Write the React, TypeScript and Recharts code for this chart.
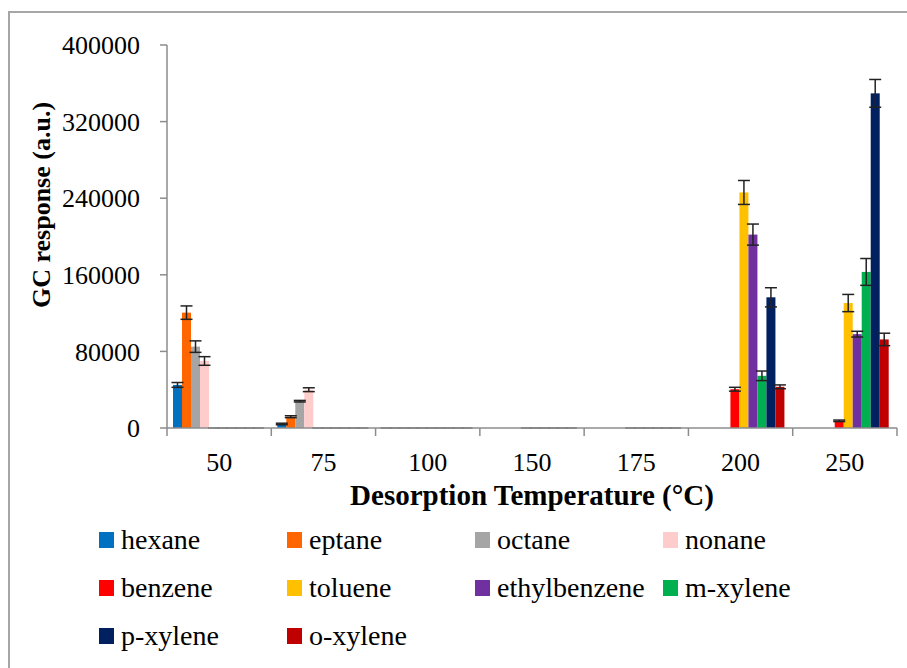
import React from 'react';
import { BarChart, Bar, XAxis, YAxis, ErrorBar, Legend } from 'recharts';

const temperatures = ['50', '75', '100', '150', '175', '200', '250'];

const hexane = [45000, 4200, 0, null, null, null, null];
const eptane = [120500, 11800, 0, null, null, null, null];
const octane = [85000, 28000, 0, null, null, null, null];
const nonane = [70000, 40000, 0, null, null, null, null];
const benzene = [0, 0, 0, 0, 0, 40500, 7500];
const toluene = [0, 0, 0, 0, 0, 246000, 130500];
const ethylbenzene = [0, 0, 0, 0, 0, 202000, 98000];
const mXylene = [0, 0, 0, 0, 0, 54500, 163000];
const pXylene = [0, 0, 0, 0, 0, 136500, 349500];
const oXylene = [0, 0, 0, 0, 0, 43000, 92500];

const hexaneErr = [2500, 800, 0, null, null, null, null];
const eptaneErr = [7000, 1000, 0, null, null, null, null];
const octaneErr = [6000, 800, 0, null, null, null, null];
const nonaneErr = [4500, 2000, 0, null, null, null, null];
const benzeneErr = [0, 0, 0, 0, 0, 2000, 800];
const tolueneErr = [0, 0, 0, 0, 0, 12500, 9000];
const ethylbenzeneErr = [0, 0, 0, 0, 0, 11000, 3000];
const mXyleneErr = [0, 0, 0, 0, 0, 5000, 14000];
const pXyleneErr = [0, 0, 0, 0, 0, 10000, 14500];
const oXyleneErr = [0, 0, 0, 0, 0, 2000, 6500];

const seriesNames = ['hexane', 'eptane', 'octane', 'nonane', 'benzene', 'toluene', 'ethylbenzene', 'm-xylene', 'p-xylene', 'o-xylene'];
const seriesColors = ['#0070C0', '#FF6600', '#A5A5A5', '#FFCCCC', '#FF0000', '#FFC000', '#7030A0', '#00B050', '#002060', '#C00000'];
const seriesValues = [hexane, eptane, octane, nonane, benzene, toluene, ethylbenzene, mXylene, pXylene, oXylene];
const seriesErrors = [hexaneErr, eptaneErr, octaneErr, nonaneErr, benzeneErr, tolueneErr, ethylbenzeneErr, mXyleneErr, pXyleneErr, oXyleneErr];

const yTicks = [0, 80000, 160000, 240000, 320000, 400000];

const xTitle = 'Desorption Temperature (°C)';
const yTitle = 'GC response (a.u.)';

const FONT = "'Liberation Serif', 'Times New Roman', serif";
const AXIS_GRAY = '#8c8c8c';
const X_TICK_SIZE = 8;
const X_TICK_MARGIN = 17;

const data = temperatures.map((t, i) => {
  const row: any = { temp: t };
  seriesNames.forEach((n, s) => {
    const v = seriesValues[s][i];
    const e = seriesErrors[s][i];
    row[n] = v;
    row[n + '_err'] = v === null || e === null || e === 0 ? null : e;
  });
  return row;
});

const renderLegend = () => (
  <div style={{ paddingLeft: 99, width: 907, fontFamily: FONT, fontSize: 28, color: '#000' }}>
    {seriesNames.map((n, i) => (
      <div
        key={n}
        style={{
          display: 'inline-flex',
          alignItems: 'center',
          width: 188,
          height: 48,
          verticalAlign: 'top',
          whiteSpace: 'nowrap',
        }}
      >
        <span style={{ display: 'inline-block', width: 15, height: 16, background: seriesColors[i], marginRight: 7 }} />
        <span style={{ lineHeight: '48px' }}>{n}</span>
      </div>
    ))}
  </div>
);

// bar shape: filled rectangle, or a thin baseline mark for a zero value
const BarShape = (props: any) => {
  const { x, y, width, height, fill } = props;
  if (x == null || y == null) return null;
  if (Math.abs(height) < 0.5) {
    return <line x1={x - 1} x2={x + width + 1} y1={y} y2={y} stroke="#5a5a5a" strokeWidth={1.5} />;
  }
  return <rect x={x} y={y} width={width} height={height} fill={fill} />;
};

// category tick: label at the centre, tick marks at the category boundaries
const CategoryTick = (props: any) => {
  const { x, y, payload, width, visibleTicksCount, index } = props;
  const count = visibleTicksCount || temperatures.length;
  const band = width / count;
  const axisY = y - X_TICK_SIZE - X_TICK_MARGIN;
  const left = x - band / 2;
  const right = x + band / 2;
  return (
    <g>
      <line x1={left} y1={axisY} x2={left} y2={axisY + X_TICK_SIZE} stroke={AXIS_GRAY} strokeWidth={1.5} />
      {index === count - 1 && (
        <line x1={right} y1={axisY} x2={right} y2={axisY + X_TICK_SIZE} stroke={AXIS_GRAY} strokeWidth={1.5} />
      )}
      <text x={x} y={y} dy="0.71em" textAnchor="middle" fontFamily={FONT} fontSize={26} fill="#000">
        {payload.value}
      </text>
    </g>
  );
};

const XTitle = (props: any) => {
  const vb = props.viewBox || {};
  return (
    <text
      x={vb.x + vb.width / 2}
      y={vb.y + 77}
      textAnchor="middle"
      fontFamily={FONT}
      fontWeight="bold"
      fontSize={29}
      fill="#000"
    >
      {xTitle}
    </text>
  );
};

const YTitle = (props: any) => {
  const vb = props.viewBox || {};
  const cx = vb.x - 26;
  const cy = 205;
  return (
    <text
      x={cx}
      y={cy}
      transform={`rotate(-90, ${cx}, ${cy})`}
      textAnchor="middle"
      dominantBaseline="central"
      fontFamily={FONT}
      fontWeight="bold"
      fontSize={26}
      fill="#000"
    >
      {yTitle}
    </text>
  );
};

export default function App() {
  return (
    <div style={{ position: 'absolute', left: 0, top: 0, width: 907, height: 668, background: '#fff', overflow: 'hidden' }}>
      <div
        style={{
          position: 'absolute',
          left: 8,
          top: 11,
          width: 920,
          height: 700,
          borderLeft: '2px solid #a6a6a6',
          borderTop: '2px solid #a6a6a6',
          boxSizing: 'border-box',
        }}
      />
      <div style={{ position: 'absolute', left: 0, top: 0 }}>
        <BarChart
          width={907}
          height={668}
          data={data}
          margin={{ top: 45, right: 10, left: 67, bottom: 18 }}
          barCategoryGap={6}
          barGap={0}
        >
          <XAxis
            dataKey="temp"
            height={72}
            tickLine={false}
            tickSize={X_TICK_SIZE}
            tickMargin={X_TICK_MARGIN}
            axisLine={{ stroke: AXIS_GRAY, strokeWidth: 1.5 }}
            tick={<CategoryTick />}
            interval={0}
            label={<XTitle />}
          />
          <YAxis
            width={100}
            domain={[0, 400000]}
            ticks={yTicks}
            interval={0}
            tickSize={7}
            tickMargin={20}
            axisLine={{ stroke: AXIS_GRAY, strokeWidth: 1.5 }}
            tickLine={{ stroke: AXIS_GRAY, strokeWidth: 1.5 }}
            tick={{ fill: '#000', fontSize: 26, fontFamily: FONT }}
            label={<YTitle />}
          />
          <Legend
            content={renderLegend}
            wrapperStyle={{ position: 'absolute', left: 0, top: 516, width: 907, height: 150 }}
          />
          {seriesNames.map((n, i) => (
            <Bar key={n} dataKey={n} name={n} fill={seriesColors[i]} shape={<BarShape />} isAnimationActive={false}>
              <ErrorBar dataKey={n + '_err'} width={6} stroke="#222" strokeWidth={1.5} direction="y" />
            </Bar>
          ))}
        </BarChart>
      </div>
    </div>
  );
}
